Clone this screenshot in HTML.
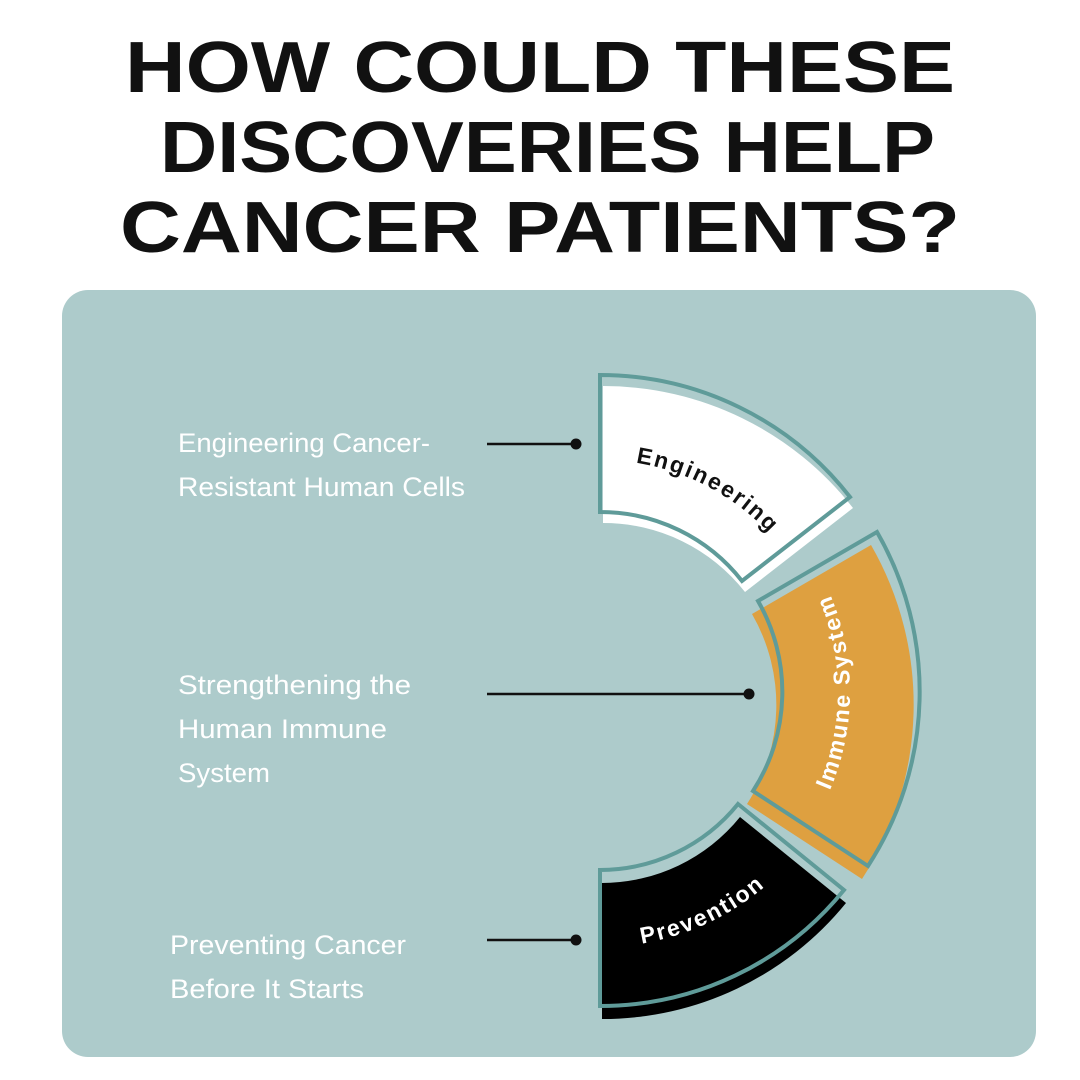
<!DOCTYPE html>
<html><head><meta charset="utf-8"><style>
html,body{margin:0;padding:0;background:#fff;}
svg{display:block;}
</style></head><body>
<svg width="1080" height="1080" viewBox="0 0 1080 1080" xmlns="http://www.w3.org/2000/svg">
<rect width="1080" height="1080" fill="#fff"/>
<g font-family="Liberation Sans, sans-serif" font-weight="bold" font-size="72" fill="#111">
<text x="125" y="92" textLength="830" lengthAdjust="spacingAndGlyphs">HOW COULD THESE</text>
<text x="160" y="172" textLength="775" lengthAdjust="spacingAndGlyphs">DISCOVERIES HELP</text>
<text x="120" y="252" textLength="840" lengthAdjust="spacingAndGlyphs">CANCER PATIENTS?</text>
</g>
<rect x="62" y="290" width="974" height="767" rx="26" fill="#adcbcb"/>
<defs>
<path id="pe" d="M579.8,460.9 A232,232 0 0 1 802.9,579.5"/>
<path id="pi" d="M816.5,817 A250,250 0 0 0 816.5,567"/>
<path id="pp" d="M555.7,943.1 A255,255 0 0 0 820.8,819.5"/>
</defs>
<path transform="translate(3,11)" d="M600,375 A317,317 0 0 1 850,497 L742,581 A180,180 0 0 0 600,512 Z" fill="#fff"/>
<path transform="translate(-6,13)" d="M877,532 A320,320 0 0 1 868,866 L753,791 A182,182 0 0 0 758,601 Z" fill="#dea040"/>
<path transform="translate(2,13)" d="M738,804 L844,890 A314,314 0 0 1 600,1006 L600,870 A178,178 0 0 0 738,804 Z" fill="#000"/>
<g fill="none" stroke="#5f9b99" stroke-width="4">
<path d="M600,375 A317,317 0 0 1 850,497 L742,581 A180,180 0 0 0 600,512 Z"/>
<path d="M877,532 A320,320 0 0 1 868,866 L753,791 A182,182 0 0 0 758,601 Z"/>
<path d="M738,804 L844,890 A314,314 0 0 1 600,1006 L600,870 A178,178 0 0 0 738,804 Z"/>
</g>
<g font-family="Liberation Sans, sans-serif" font-weight="bold" font-size="23" letter-spacing="2">
<text fill="#111"><textPath href="#pe" startOffset="50%" text-anchor="middle">Engineering</textPath></text>
<text fill="#fff"><textPath href="#pi" startOffset="50%" text-anchor="middle">Immune System</textPath></text>
<text fill="#fff"><textPath href="#pp" startOffset="50%" text-anchor="middle">Prevention</textPath></text>
</g>
<g stroke="#111" stroke-width="2.5">
<line x1="487" y1="444" x2="575" y2="444"/>
<line x1="487" y1="694" x2="748" y2="694"/>
<line x1="487" y1="940" x2="575" y2="940"/>
</g>
<g fill="#111">
<circle cx="576" cy="444" r="5.5"/>
<circle cx="749" cy="694" r="5.5"/>
<circle cx="576" cy="940" r="5.5"/>
</g>
<g font-family="Liberation Sans, sans-serif" font-size="27" fill="#fff" lengthAdjust="spacingAndGlyphs">
<text x="178" y="452" textLength="252" lengthAdjust="spacingAndGlyphs">Engineering Cancer-</text>
<text x="178" y="496" textLength="287" lengthAdjust="spacingAndGlyphs">Resistant Human Cells</text>
<text x="178" y="694" textLength="233" lengthAdjust="spacingAndGlyphs">Strengthening the</text>
<text x="178" y="738" textLength="209" lengthAdjust="spacingAndGlyphs">Human Immune</text>
<text x="178" y="782" textLength="92" lengthAdjust="spacingAndGlyphs">System</text>
<text x="170" y="954" textLength="236" lengthAdjust="spacingAndGlyphs">Preventing Cancer</text>
<text x="170" y="998" textLength="194" lengthAdjust="spacingAndGlyphs">Before It Starts</text>
</g>
</svg>
</body></html>
